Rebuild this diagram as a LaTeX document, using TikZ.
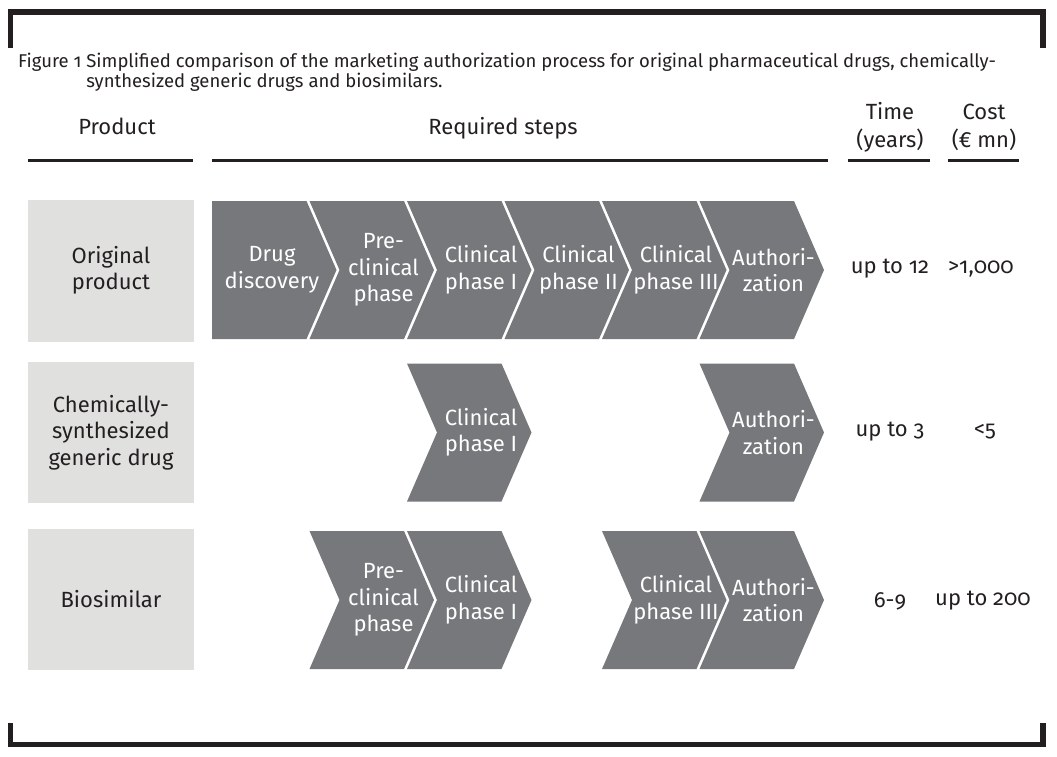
\documentclass[tikz,border=0pt]{standalone}
\usepackage{fontspec}
\setmainfont{Fira Sans}[UprightFont=*-Regular, Numbers=OldStyle]
\usetikzlibrary{calc}
\definecolor{chevgray}{RGB}{118,120,123}
\definecolor{boxgray}{RGB}{224,224,223}
\definecolor{inkblack}{RGB}{35,31,32}
\tikzset{
	prodbox/.style={fill=boxgray, minimum width=166pt, minimum height=142pt, inner sep=0pt, align=center, text=inkblack, font=\fontsize{22}{26.5}\selectfont},
	chevtext/.style={inner sep=0pt, align=center, text=white, font=\fontsize{22}{26.5}\selectfont},
	headtext/.style={inner sep=0pt, align=center, text=inkblack, font=\fontsize{22}{28}\selectfont},
	valtext/.style={inner sep=0pt, text=inkblack, font=\fontsize{22}{26}\selectfont},
	headrule/.style={draw=inkblack, line width=2.8pt},
	frame/.style={draw=inkblack, line width=5.5pt, line join=miter}
}
% chevron: left x, middle y, name, text
\def\chev(#1,#2)#3#4{%
	\fill[chevgray] (#1,#2-69) -- ++(94.5,0) -- ++(30,69) -- ++(-30,69) -- ++(-94.5,0) -- ++(30,-69) -- cycle;
	\node[chevtext] (#3) at (#1+74,#2) {#4};}
% first chevron, flat on the left
\def\firstchev(#1,#2)#3#4{%
	\fill[chevgray] (#1,#2-69) -- ++(94.5,0) -- ++(30,69) -- ++(-30,69) -- ++(-94.5,0) -- cycle;
	\node[chevtext] (#3) at (#1+60,#2) {#4};}

\begin{document}
\begin{tikzpicture}[x=1pt, y=-1pt]
	%%%%% START %%%%%
	\useasboundingbox (0,0) rectangle (1057,757);
	
	\draw[frame] (10.5,48) -- (10.5,12) -- (1043,12) -- (1043,48);
	\draw[frame] (10.5,723) -- (10.5,744.5) -- (1043,744.5) -- (1043,723);
	
	\node[anchor=base west, inner sep=0pt, text=inkblack, font=\fontsize{18.5}{17}\selectfont] (title) at (18,68)
		{\begin{tabular}[t]{@{}l@{ }l@{}}Figure 1 & Simplified comparison of the marketing authorization process for original pharmaceutical drugs, chemically-\\ & synthesized generic drugs and biosimilars.\end{tabular}};
	
	% headers
	\node[headtext, anchor=base] (product) at (117,135) {Product};
	\node[headtext, anchor=base] (steps) at (503,135) {Required steps};
	\node[headtext] (time) at (890,127) {Time\\(years)};
	\node[headtext] (cost) at (984,127) {Cost\\(€ mn)};
	\draw[headrule] (28,160.5) -- (193,160.5);
	\draw[headrule] (212,160.5) -- (828,160.5);
	\draw[headrule] (848,160.5) -- (930,160.5);
	\draw[headrule] (948,160.5) -- (1019,160.5);
	
	% products
	\node[prodbox] (orig) at (111,270.5) {Original\\product};
	\node[prodbox, minimum height=141pt] (generic) at (111,432.5) {Chemically-\\synthesized\\generic drug};
	\node[prodbox, minimum height=141pt] (biosim) at (111,599.5) {Biosimilar};
	
	% original product
	\firstchev(212,270){disc}{Drug\\discovery}
	\chev(309.5,270){preclin}{Pre-\\clinical\\phase}
	\chev(407,270){phaseone}{Clinical\\phase I}
	\chev(504.5,270){phasetwo}{Clinical\\phase II}
	\chev(602,270){phasethree}{Clinical\\phase III}
	\chev(699.5,270){auth}{Authori-\\zation}
	
	% generic drug
	\chev(407,432.5){genphaseone}{Clinical\\phase I}
	\chev(699.5,432.5){genauth}{Authori-\\zation}
	
	% biosimilar
	\chev(309.5,600){biopreclin}{Pre-\\clinical\\phase}
	\chev(407,600){biophaseone}{Clinical\\phase I}
	\chev(602,600){biophasethree}{Clinical\\phase III}
	\chev(699.5,600){bioauth}{Authori-\\zation}
	
	% time and cost
	\node[valtext] (origtime) at (890,269) {up to 12};
	\node[valtext] (origcost) at (981,269) {>1,000};
	\node[valtext] (gentime) at (890,432) {up to 3};
	\node[valtext] (gencost) at (985,432) {<5};
	\node[valtext] (biotime) at (890,601) {6-9};
	\node[valtext] (biocost) at (983,601) {up to 200};
	%%%%% END %%%%%
\end{tikzpicture}
\end{document}
